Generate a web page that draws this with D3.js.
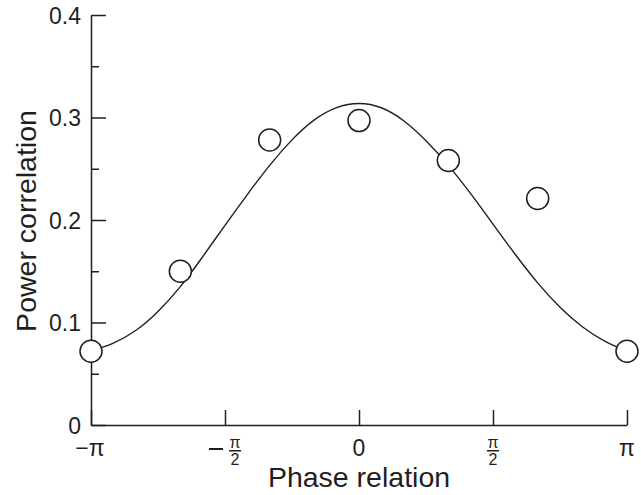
<!DOCTYPE html>
<html>
<head>
<meta charset="utf-8">
<script src="https://cdn.jsdelivr.net/npm/d3@7"></script>
<style>
  body { margin: 0; background: #fff; }
  svg { display: block; font-family: "Liberation Sans", Arial, Helvetica, sans-serif; }
  .axis path, .axis line { stroke: #1f1f1f; stroke-width: 1.5; }
  .axis text { fill: #1f1f1f; font-size: 23px; }
</style>
</head>
<body>
<div id="chart"></div>
<script>
const PI = Math.PI

// fitted curve, read every pi/12 (x in units of pi)
let curveX = [-1, -11/12, -10/12, -9/12, -8/12, -7/12, -6/12, -5/12, -4/12, -3/12, -2/12, -1/12, 0,
  1/12, 2/12, 3/12, 4/12, 5/12, 6/12, 7/12, 8/12, 9/12, 10/12, 11/12, 1]
let curveY = [0.072, 0.079, 0.091, 0.110, 0.134, 0.164, 0.195, 0.225, 0.254, 0.279, 0.299, 0.311, 0.315,
  0.311, 0.298, 0.278, 0.254, 0.226, 0.196, 0.166, 0.138, 0.114, 0.095, 0.081, 0.072]

// measured points (x in units of pi)
let pointX = [-1, -2/3, -1/3, 0, 1/3, 2/3, 1]
let pointY = [0.072, 0.150, 0.278, 0.297, 0.258, 0.221, 0.072]

let yMajor = [0, 0.1, 0.2, 0.3, 0.4]
let yMinor = [0.05, 0.15, 0.25, 0.35]
let xTicks = [-1, -0.5, 0, 0.5, 1]
let xTickLabels = ['−π', '−π/2', '0', 'π/2', 'π']

let width = 641, height = 495

let svg = d3.select('#chart')
.append('svg')
.attr('width', width)
.attr('height', height)

let x = d3.scaleLinear().domain([-PI, PI]).range([91, 627])
let y = d3.scaleLinear().domain([0, 0.4]).range([425, 15])

// y axis
svg.append('g')
.attr('class', 'axis')
.attr('transform', `translate(${x(-PI)},0)`)
.call(d3.axisLeft(y).tickValues(yMajor).tickSizeInner(-15).tickSizeOuter(0).tickPadding(10)
  .tickFormat(d => d == 0 ? '0' : d3.format('.1f')(d)))

svg.append('g')
.attr('class', 'axis')
.attr('transform', `translate(${x(-PI)},0)`)
.call(d3.axisLeft(y).tickValues(yMinor).tickSizeInner(-8).tickSizeOuter(0).tickFormat(''))
.select('.domain').remove()

// x axis
svg.append('g')
.attr('class', 'axis')
.attr('transform', `translate(0,${y(0)})`)
.call(d3.axisBottom(x).tickValues(xTicks.map(d => d * PI)).tickSizeInner(-15).tickSizeOuter(0).tickFormat(''))

svg.selectAll('.axis text').attr('dy', '0.35em')

// x tick labels, with stacked fractions for pi/2
xTicks.forEach((t, i) => {
  let lab = xTickLabels[i]
  let cx = x(t * PI)
  let g = svg.append('g').attr('transform', `translate(${cx},0)`).attr('fill', '#1f1f1f')
  if (lab.includes('/')) {
    let neg = lab[0] == '−'
    let fx = neg ? 10 : 0
    if (neg) {
      g.append('rect').attr('x', -16).attr('y', 448).attr('width', 14).attr('height', 2)
    }
    g.append('rect').attr('x', fx - 6).attr('y', 450).attr('width', 12).attr('height', 1.5)
    // one text element for numerator and denominator
    let ft = g.append('text').attr('text-anchor', 'middle').style('font-size', '16px')
    ft.append('tspan').attr('x', fx).attr('y', 447.5).text('π')
    ft.append('tspan').attr('x', fx).attr('y', 465).text('2')
  } else {
    g.append('text').attr('x', lab.length > 1 ? -1 : 0).attr('y', 456).attr('text-anchor', 'middle')
    .style('font-size', '23px').text(lab)
  }
})

// axis titles
svg.append('text')
.attr('x', 359)
.attr('y', 487)
.attr('text-anchor', 'middle')
.style('font-size', '28.5px')
.attr('fill', '#1f1f1f')
.text('Phase relation')

svg.append('text')
.attr('transform', 'translate(36,221) rotate(-90)')
.attr('text-anchor', 'middle')
.style('font-size', '28.5px')
.attr('fill', '#1f1f1f')
.text('Power correlation')

// fitted curve
let line = d3.line()
.x((d, i) => x(curveX[i] * PI))
.y(d => y(d))
.curve(d3.curveBasis)

svg.append('path')
.datum(curveY)
.attr('d', line)
.attr('fill', 'none')
.attr('stroke', '#1f1f1f')
.attr('stroke-width', 1.4)

// data points
svg.append('g')
.selectAll('circle')
.data(pointY)
.join('circle')
.attr('cx', (d, i) => x(pointX[i] * PI))
.attr('cy', d => y(d))
.attr('r', 11)
.attr('fill', '#fff')
.attr('stroke', '#1f1f1f')
.attr('stroke-width', 1.5)
</script>
</body>
</html>
